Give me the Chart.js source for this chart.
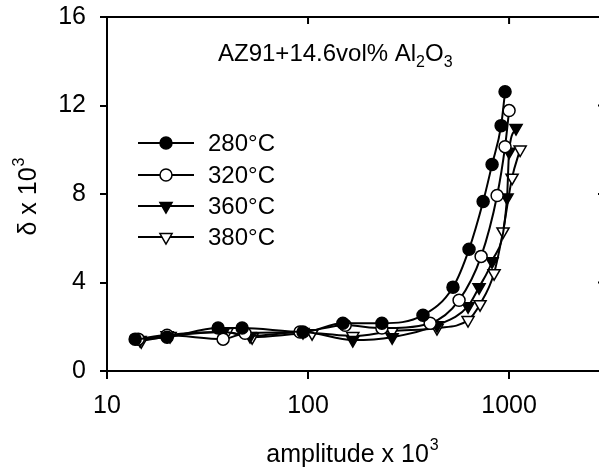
<!DOCTYPE html>
<html>
<head>
<meta charset="utf-8">
<script src="https://cdn.jsdelivr.net/npm/chart.js@4.4.1/dist/chart.umd.min.js"></script>
<style>
  html, body { margin: 0; padding: 0; background: #fff; overflow: hidden; }
  #wrap { width: 599px; height: 473px; overflow: hidden; }
  canvas { display: block; }
</style>
</head>
<body>
<div id="wrap"><canvas id="chart" width="620" height="473"></canvas></div>
<script>
// amplitude x 10^3 and damping (delta x 10^3)
const amp280 = [13.8, 19.9, 35.7, 47.0, 94.4, 149, 233, 373, 526, 632, 743, 823, 913, 955];
const del280 = [1.44, 1.53, 1.94, 1.94, 1.76, 2.16, 2.16, 2.52, 3.79, 5.50, 7.66, 9.33, 11.09, 12.62];

const amp320 = [14.3, 19.9, 37.8, 48.6, 91.2, 153, 233, 405, 564, 726, 872, 955, 1000];
const del320 = [1.44, 1.62, 1.44, 1.71, 1.76, 2.07, 1.94, 2.16, 3.20, 5.18, 7.93, 10.14, 11.77];

const amp360 = [14.6, 19.9, 37.8, 51.5, 94.4, 167, 262, 438, 625, 709, 823, 977, 1000, 1083];
const del360 = [1.40, 1.62, 1.76, 1.58, 1.76, 1.40, 1.53, 2.07, 2.93, 3.79, 4.96, 7.84, 9.91, 10.98];

const amp380 = [14.8, 20.6, 39.5, 52.7, 104.7, 167, 262, 438, 625, 717, 842, 933, 1035, 1135];
const del380 = [1.35, 1.58, 1.76, 1.53, 1.71, 1.58, 1.80, 1.94, 2.30, 3.02, 4.42, 6.31, 8.74, 10.01];

const seriesLabels = ['280°C', '320°C', '360°C', '380°C'];
const xTicks = [10, 100, 1000];
const yTicks = [0, 4, 8, 12, 16];

const FONT = 'Liberation Sans, Arial, sans-serif';

function pts(xs, ys) {
  return xs.map((x, i) => ({ x: x, y: ys[i] }));
}

const markers = [
  { pointStyle: 'circle', fill: '#000', radius: 6, rotation: 0 },
  { pointStyle: 'circle', fill: '#fff', radius: 6, rotation: 0 },
  { pointStyle: 'triangle', fill: '#000', radius: 7, rotation: 180 },
  { pointStyle: 'triangle', fill: '#fff', radius: 7, rotation: 180 }
];

const allData = [pts(amp280, del280), pts(amp320, del320), pts(amp360, del360), pts(amp380, del380)];

const datasets = allData.map((d, i) => ({
  label: seriesLabels[i],
  data: d,
  borderColor: '#000',
  borderWidth: 2,
  cubicInterpolationMode: 'monotone',
  pointStyle: markers[i].pointStyle,
  pointRotation: markers[i].rotation,
  pointRadius: markers[i].radius,
  pointBackgroundColor: markers[i].fill,
  pointBorderColor: '#000',
  pointBorderWidth: 1.5,
  order: i
}));

// frame, inward ticks, annotation, legend and axis titles
const extras = {
  id: 'extras',
  afterDraw(chart) {
    const ctx = chart.ctx;
    const a = chart.chartArea;
    const xs = chart.scales.x, ys = chart.scales.y;
    ctx.save();
    ctx.strokeStyle = '#000';
    ctx.lineWidth = 2;
    ctx.beginPath();
    ctx.moveTo(a.left, a.top);
    ctx.lineTo(a.right, a.top);
    ctx.lineTo(a.right, a.bottom);
    ctx.stroke();
    // inward ticks on top and right
    ctx.beginPath();
    xTicks.forEach(v => {
      if (v === 10) return;
      const px = xs.getPixelForValue(v);
      ctx.moveTo(px, a.top);
      ctx.lineTo(px, a.top + 7);
    });
    yTicks.forEach(v => {
      if (v === 0 || v === 16) return;
      const py = ys.getPixelForValue(v);
      ctx.moveTo(a.right, py);
      ctx.lineTo(a.right - 7, py);
    });
    ctx.stroke();

    ctx.fillStyle = '#000';
    ctx.textBaseline = 'alphabetic';
    ctx.textAlign = 'left';

    // annotation
    let x = 218, base = 61;
    const parts = [['AZ91+14.6vol% Al', 24, 0], ['2', 16, 6], ['O', 24, 0], ['3', 16, 6]];
    parts.forEach(p => {
      ctx.font = p[1] + 'px ' + FONT;
      ctx.fillText(p[0], x, base + p[2]);
      x += ctx.measureText(p[0]).width;
    });

    // legend
    const rows = [143, 175, 206, 237];
    rows.forEach((ry, i) => {
      ctx.strokeStyle = '#000';
      ctx.lineWidth = 2;
      ctx.beginPath();
      ctx.moveTo(138, ry);
      ctx.lineTo(194, ry);
      ctx.stroke();
      ctx.fillStyle = markers[i].fill;
      ctx.strokeStyle = '#000';
      ctx.lineWidth = 1.5;
      Chart.helpers.drawPoint(ctx, {
        pointStyle: markers[i].pointStyle,
        rotation: markers[i].rotation,
        radius: markers[i].radius,
        borderWidth: 1.5
      }, 166, ry);
      ctx.fillStyle = '#000';
      ctx.font = '24px ' + FONT;
      ctx.textBaseline = 'middle';
      ctx.fillText(seriesLabels[i], 208, ry + 1);
    });

    // x title
    ctx.textBaseline = 'alphabetic';
    ctx.font = '25px ' + FONT;
    const t1 = 'amplitude x 10';
    const w1 = ctx.measureText(t1).width;
    ctx.font = '16px ' + FONT;
    const w2 = ctx.measureText('3').width;
    let tx = 352 - (w1 + w2) / 2;
    ctx.font = '25px ' + FONT;
    ctx.fillText(t1, tx, 462);
    ctx.font = '16px ' + FONT;
    ctx.fillText('3', tx + w1 + 1, 450);

    // y title (rotated)
    ctx.translate(36, 197);
    ctx.rotate(-Math.PI / 2);
    ctx.font = '25px ' + FONT;
    const s1 = 'δ x 10';
    const sw = ctx.measureText(s1).width;
    ctx.font = '16px ' + FONT;
    const sw2 = ctx.measureText('3').width;
    const sx = -(sw + sw2) / 2;
    ctx.font = '25px ' + FONT;
    ctx.fillText(s1, sx, 0);
    ctx.font = '16px ' + FONT;
    ctx.fillText('3', sx + sw + 1, -12);
    ctx.restore();
  }
};

new Chart(document.getElementById('chart'), {
  type: 'line',
  data: { datasets: datasets },
  options: {
    responsive: false,
    animation: false,
    devicePixelRatio: 1,
    layout: { padding: { top: 17, right: 15, left: 0, bottom: 0 } },
    plugins: { legend: { display: false }, tooltip: { enabled: false } },
    scales: {
      x: {
        type: 'logarithmic',
        min: 10,
        max: 3000,
        afterBuildTicks: s => { s.ticks = xTicks.map(v => ({ value: v })); },
        afterFit: s => { s.height = 102; s.paddingLeft = 0; s.paddingRight = 0; },
        border: { color: '#000', width: 2 },
        grid: { drawOnChartArea: false, drawTicks: true, tickLength: 8, color: '#000', lineWidth: 2 },
        ticks: {
          color: '#000',
          font: { family: FONT, size: 25 },
          padding: 12,
          maxRotation: 0,
          callback: v => String(v)
        }
      },
      y: {
        min: 0,
        max: 16,
        afterBuildTicks: s => { s.ticks = yTicks.map(v => ({ value: v })); },
        afterFit: s => { s.width = 107; s.paddingTop = 0; s.paddingBottom = 0; },
        border: { color: '#000', width: 2 },
        grid: { drawOnChartArea: false, drawTicks: true, tickLength: 7, color: '#000', lineWidth: 2 },
        ticks: {
          color: '#000',
          font: { family: FONT, size: 25 },
          padding: 14,
          callback: v => String(v)
        }
      }
    }
  },
  plugins: [extras]
});
</script>
</body>
</html>
